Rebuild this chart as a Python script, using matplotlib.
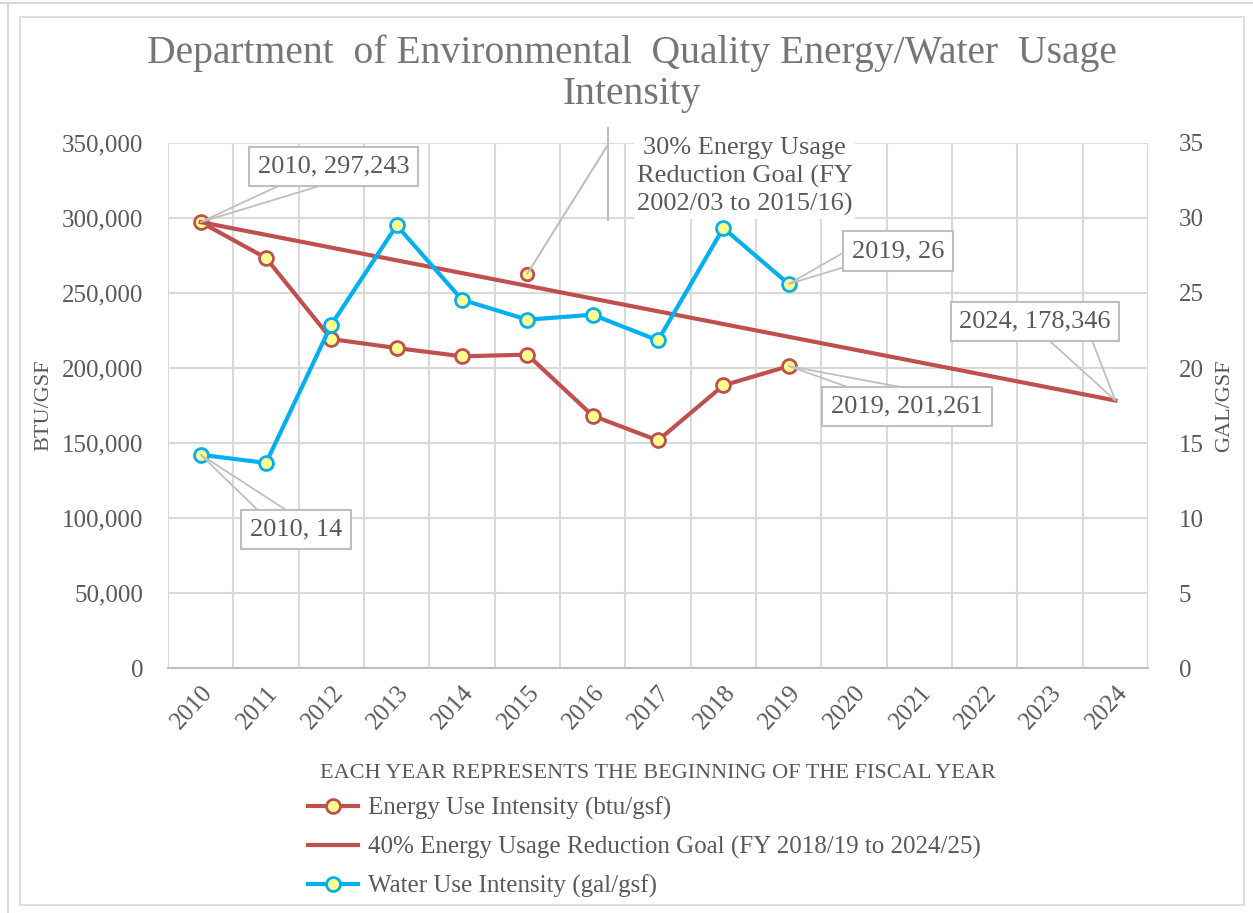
import matplotlib.pyplot as plt
from matplotlib.patches import Rectangle
from matplotlib.lines import Line2D

plt.rcParams['font.family'] = ['Liberation Serif', 'DejaVu Serif']

years = [str(y) for y in range(2010, 2025)]
energy = [297243, 273300, 219300, 213300, 207800, 208900, 168200, 151700, 188400, 201261]
water = [14.22, 13.67, 22.89, 29.5, 24.55, 23.22, 23.55, 21.84, 29.33, 25.6]
goal40_idx = [0, 14]
goal40 = [297243, 178346]
goal30_idx = [5]
goal30 = [262900]

red = '#c0504d'
blue = '#00b0f0'
yellow = '#ffff8f'
grid = '#d9d9d9'
txt = '#595959'
callout_c = '#bfbfbf'

fig = plt.figure(figsize=(12.53, 9.13), dpi=100)
fig.patches.append(Rectangle((0.016, 0.009), 0.977, 0.972, transform=fig.transFigure,
                             fill=False, ec='#d9d9d9', lw=1.2))
fig.add_artist(Line2D([0.0, 1.0], [0.997, 0.997], color='#d9d9d9', lw=1.5))
fig.add_artist(Line2D([0.006, 0.006], [0.0, 0.997], color='#d9d9d9', lw=1.5))

ax = fig.add_axes([0.1341, 0.2683, 0.7821, 0.5751])
ax2 = ax.twinx()

x = list(range(len(years)))
ax.set_xlim(-0.5, len(years) - 0.5)
ax.set_ylim(0, 350000)
ax2.set_ylim(0, 35)

ax.set_yticks(range(0, 350001, 50000))
ax.set_yticklabels([f'{v:,}' for v in range(0, 350001, 50000)])
ax2.set_yticks(range(0, 36, 5))
ax.set_xticks(x)
ax.set_xticklabels(years, rotation=48, ha='right', rotation_mode='anchor')

# gridlines sit between the categories
for b in [i - 0.5 for i in range(len(years) + 1)]:
    ax.axvline(b, color=grid, lw=1.5, zorder=0)
ax.grid(axis='y', color=grid, lw=1.5, zorder=0)
ax.set_axisbelow(True)

for a in (ax, ax2):
    for s in a.spines.values():
        s.set_visible(False)
    a.tick_params(length=0, labelsize=18, colors=txt)
ax.spines['bottom'].set_visible(True)
ax.spines['bottom'].set_color('#bfbfbf')
ax.spines['bottom'].set_linewidth(1.5)
ax.tick_params(axis='y', pad=18)
ax.tick_params(axis='x', pad=10)
ax2.tick_params(axis='y', pad=22)

ax.plot(x[:len(energy)], energy, color=red, lw=3, marker='o', ms=10,
        mfc=yellow, mec=red, mew=2, zorder=3)
ax.plot(goal40_idx, goal40, color=red, lw=3, zorder=3)
ax.plot(goal30_idx, goal30, ls='none', marker='o', ms=9, mfc=yellow, mec=red, mew=2, zorder=3)
ax2.plot(x[:len(water)], water, color=blue, lw=3, marker='o', ms=10,
         mfc=yellow, mec=blue, mew=2, zorder=3)

ax.set_ylabel('BTU/GSF', fontsize=16, color=txt, labelpad=6)
ax2.set_ylabel('GAL/GSF', fontsize=16, color=txt, labelpad=8)
ax.set_xlabel('EACH YEAR REPRESENTS THE BEGINNING OF THE FISCAL YEAR', fontsize=16,
              color=txt, labelpad=22)

fig.text(0.504, 0.942, 'Department  of Environmental  Quality Energy/Water  Usage',
         ha='center', va='center', fontsize=28.5, color='#767676')
fig.text(0.504, 0.897, 'Intensity', ha='center', va='center', fontsize=28.5, color='#767676')

box = dict(boxstyle='square,pad=0.33', fc='white', ec=callout_c, lw=1.5)

# label, axes, point, box centre, side of box the pointer leaves from, fractions along it
callouts = [
    (f'2010, {energy[0]:,}', ax, (0, energy[0]), (2.03, 334200), 'bottom', (0.17, 0.41)),
    (f'2019, {energy[9]:,}', ax, (9, energy[9]), (10.81, 174200), 'top', (0.15, 0.46)),
    (f'2024, {goal40[1]:,}', ax, (14, goal40[1]), (12.77, 230900), 'bottom', (0.59, 0.84)),
    (f'2010, {round(water[0])}', ax2, (0, water[0]), (1.46, 9.22), 'top', (0.15, 0.41)),
    (f'2019, {round(water[9])}', ax2, (9, water[9]), (10.67, 27.8), 'left', (0.08, 0.45)),
]
anns = []
for label, a, xy, xytext, side, fr in callouts:
    t = a.text(xytext[0], xytext[1], label, ha='center', va='center', fontsize=19,
               color=txt, bbox=box, zorder=6, clip_on=False)
    anns.append((t, a, xy, side, fr))

# 30% goal label and its leader line
ax.text(8.33, 327500, '30% Energy Usage\nReduction Goal (FY\n2002/03 to 2015/16)',
        ha='center', va='center', fontsize=19, color=txt, linespacing=1.32,
        bbox=dict(boxstyle='square,pad=0.1', fc='white', ec='none'), zorder=6, clip_on=False)
ax.plot([goal30_idx[0], 6.235], [goal30[0], 348900], color=callout_c, lw=1.5,
        clip_on=False, zorder=5)
ax.plot([6.235, 6.235], [298900, 360000], color=callout_c, lw=1.5, clip_on=False, zorder=5)

handles = [
    Line2D([], [], color=red, lw=3, marker='o', ms=10, mfc=yellow, mec=red, mew=2),
    Line2D([], [], color=red, lw=3),
    Line2D([], [], color=blue, lw=3, marker='o', ms=10, mfc=yellow, mec=blue, mew=2),
]
labels = ['Energy Use Intensity (btu/gsf)',
          '40% Energy Usage Reduction Goal (FY 2018/19 to 2024/25)',
          'Water Use Intensity (gal/gsf)']
leg = fig.legend(handles, labels, loc='upper left', bbox_to_anchor=(0.2375, 0.138),
                 frameon=False, fontsize=18, handlelength=2.0, handletextpad=0.4,
                 labelspacing=0.62, borderaxespad=0)
for t in leg.get_texts():
    t.set_color(txt)

# callout pointers: two lines from the box edge to the data point
fig.canvas.draw()
for t, a, xy, side, (f0, f1) in anns:
    bb = t.get_bbox_patch().get_window_extent()
    if side == 'bottom':
        pts = [(bb.x0 + f0 * bb.width, bb.y0), (bb.x0 + f1 * bb.width, bb.y0)]
    elif side == 'top':
        pts = [(bb.x0 + f0 * bb.width, bb.y1), (bb.x0 + f1 * bb.width, bb.y1)]
    else:
        pts = [(bb.x0, bb.y0 + f0 * bb.height), (bb.x0, bb.y0 + f1 * bb.height)]
    inv = a.transData.inverted()
    p0 = inv.transform(pts[0])
    p1 = inv.transform(pts[1])
    a.plot([p0[0], xy[0], p1[0]], [p0[1], xy[1], p1[1]], color=callout_c, lw=1.3,
           clip_on=False, zorder=5)

plt.savefig('out.png', dpi=100)
